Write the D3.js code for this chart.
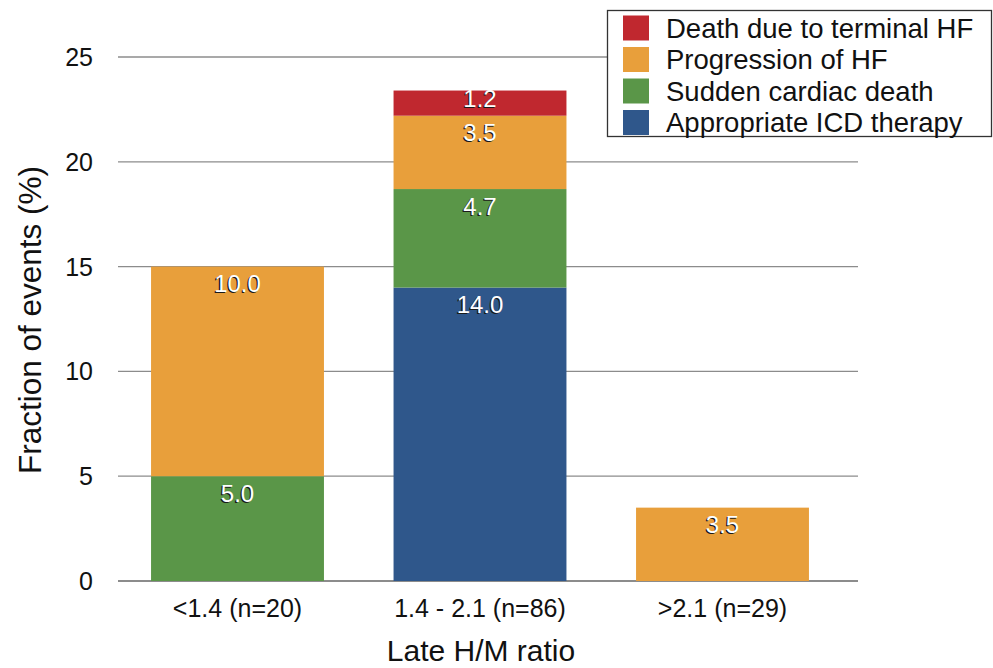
<!DOCTYPE html>
<html>
<head>
<meta charset="utf-8">
<script src="https://cdn.jsdelivr.net/npm/d3@7/dist/d3.min.js"></script>
<style>
  html, body { margin: 0; padding: 0; background: #fff; }
  svg { display: block; font-family: "Liberation Sans", Arial, sans-serif; }
</style>
</head>
<body>
<svg id="chart" width="993" height="668"></svg>
<script>
// Event fractions (%) by late H/M ratio group
const categories = ["<1.4 (n=20)", "1.4 - 2.1 (n=86)", ">2.1 (n=29)"];
const seriesNames = ["Appropriate ICD therapy", "Sudden cardiac death", "Progression of HF", "Death due to terminal HF"];
const icdTherapy = [0, 14.0, 0];
const suddenDeath = [5.0, 4.7, 0];
const progressionHF = [10.0, 3.5, 3.5];
const terminalHF = [0, 1.2, 0];
const colors = ["#2f578b", "#5a9648", "#e89f3b", "#c0282f"];
const yTicks = [0, 5, 10, 15, 20, 25];

const svg = d3.select("#chart");
const gridLeft = 118, gridRight = 858;

const rows = categories.map((c, i) => ({
  cat: c,
  [seriesNames[0]]: icdTherapy[i],
  [seriesNames[1]]: suddenDeath[i],
  [seriesNames[2]]: progressionHF[i],
  [seriesNames[3]]: terminalHF[i]
}));
const stacked = d3.stack().keys(seriesNames)(rows);

const x = d3.scaleBand().domain(categories)
  .range([116.25, 843.75]).paddingInner(0.287).paddingOuter(0.1435);
const y = d3.scaleLinear().domain([0, 25]).range([581, 57]);

// Gridlines
svg.append("g").selectAll("line").data(yTicks).join("line")
  .attr("x1", gridLeft).attr("x2", gridRight)
  .attr("y1", d => y(d)).attr("y2", d => y(d))
  .attr("stroke", d => d === 0 ? "#666" : "#8c8c8c").attr("stroke-width", 1.3);

// Y tick labels
svg.append("g").selectAll("text").data(yTicks).join("text")
  .attr("x", 93).attr("y", d => y(d)).attr("dy", "0.36em")
  .attr("text-anchor", "end").attr("font-size", 25).attr("fill", "#111")
  .text(d => d);

// Bars
const segs = svg.append("g");
stacked.forEach((layer, k) => {
  segs.append("g").attr("fill", colors[k]).selectAll("rect")
    .data(layer.map((d, i) => ({ d, i })).filter(o => o.d[1] - o.d[0] > 0))
    .join("rect")
    .attr("x", o => x(categories[o.i]))
    .attr("width", x.bandwidth())
    .attr("y", o => y(o.d[1]))
    .attr("height", o => y(o.d[0]) - y(o.d[1]));
});

// Segment value labels (white with dark shadow)
const labels = [];
stacked.forEach((layer) => {
  layer.forEach((d, i) => {
    const v = d[1] - d[0];
    if (v > 0) labels.push({ i, top: d[1], bottom: d[0], v });
  });
});
const labelY = o => y(o.top) + Math.min(25.5, (y(o.bottom) - y(o.top)) * 0.65);
const lg = svg.append("g").attr("font-size", 24).attr("text-anchor", "middle");
lg.selectAll("text.sh").data(labels).join("text").attr("class", "sh")
  .attr("x", o => x(categories[o.i]) + x.bandwidth() / 2 - 1.3)
  .attr("y", o => labelY(o) + 1)
  .attr("fill", "#1a1a1a").text(o => o.v.toFixed(1));
lg.selectAll("text.fg").data(labels).join("text").attr("class", "fg")
  .attr("x", o => x(categories[o.i]) + x.bandwidth() / 2)
  .attr("y", o => labelY(o))
  .attr("fill", "#fff").text(o => o.v.toFixed(1));

// X tick labels
svg.append("g").selectAll("text").data(categories).join("text")
  .attr("x", d => x(d) + x.bandwidth() / 2).attr("y", 617)
  .attr("text-anchor", "middle").attr("font-size", 25).attr("fill", "#111")
  .text(d => d);

// Axis titles
svg.append("text").attr("x", 481).attr("y", 661)
  .attr("text-anchor", "middle").attr("font-size", 30).attr("fill", "#111")
  .text("Late H/M ratio");
svg.append("text")
  .attr("transform", `translate(41,320) rotate(-90)`)
  .attr("text-anchor", "middle").attr("font-size", 31.5).attr("fill", "#111")
  .text("Fraction of events (%)");

// Legend
const legend = svg.append("g");
legend.append("rect").attr("x", 607.5).attr("y", 10.5).attr("width", 384).attr("height", 126)
  .attr("fill", "#fff").attr("stroke", "#333").attr("stroke-width", 1.3);
const legendOrder = [3, 2, 1, 0];
legendOrder.forEach((k, r) => {
  const cy = 28 + r * 31.5;
  legend.append("rect").attr("x", 623).attr("y", cy - 12.5).attr("width", 26).attr("height", 25)
    .attr("fill", colors[k]);
  legend.append("text").attr("x", 666).attr("y", cy).attr("dy", "0.36em")
    .attr("font-size", 27.5).attr("fill", "#111").text(seriesNames[k]);
});
</script>
</body>
</html>
